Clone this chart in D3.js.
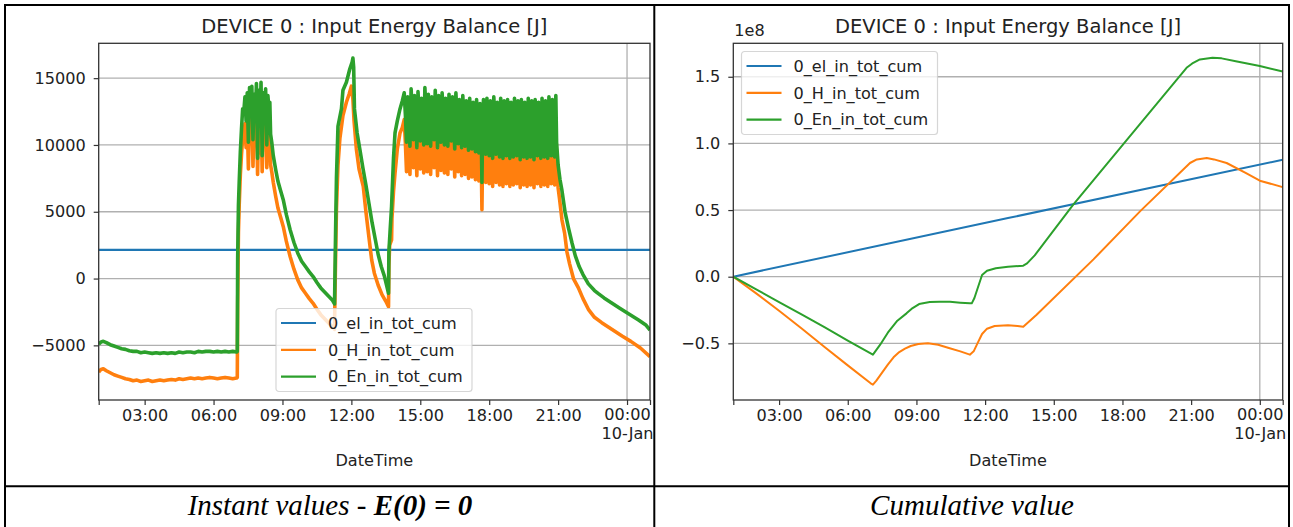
<!DOCTYPE html>
<html>
<head>
<meta charset="utf-8">
<script src="https://cdn.jsdelivr.net/npm/d3@7"></script>
<style>
  html, body { margin: 0; padding: 0; background: #fff; }
  svg { display: block; }
  .mpl text { font-family: "DejaVu Sans", sans-serif; fill: #222; }
  .caption { font-family: "Liberation Serif", "Times New Roman", serif; font-style: italic; fill: #000; }
</style>
</head>
<body>
<svg id="fig" width="1293" height="527"></svg>
<script>
// ---- Data: minutes since 09-Jan 00:00, value in J ----
const seriesNames = ["0_el_in_tot_cum", "0_H_in_tot_cum", "0_En_in_tot_cum"];
const seriesColors = ["#1f77b4", "#ff7f0e", "#2ca02c"];

// Instant values
const elInstant = [[60, 2150], [1500, 2150]];

const hInstant = [
  [60,-7000],[66,-6800],[72,-6750],[80,-6900],[90,-7050],[100,-7200],[110,-7300],[120,-7400],[130,-7500],[140,-7550],
  [150,-7650],[160,-7600],[170,-7700],[180,-7650],[190,-7600],[200,-7700],[210,-7650],[220,-7600],[230,-7650],[240,-7600],
  [250,-7550],[260,-7600],[270,-7500],[280,-7550],[290,-7500],[300,-7450],[310,-7500],[320,-7450],[330,-7500],[340,-7450],
  [350,-7400],[360,-7450],[370,-7500],[380,-7450],[390,-7400],[400,-7450],[410,-7500],[420,-7450],[422,-7400],
  [423,-2000],[425,3500],[427,5500],[430,7800],[433,9300],[436,10500],[439,10300],[442,11600],[445,9800],[448,11900],
  [451,8200],[454,12300],[457,10600],[460,12400],[463,8400],[466,11800],[469,10000],[472,12600],[475,7800],[478,12100],
  [481,9400],[484,12500],[487,8000],[490,11900],[493,10200],[496,12200],[499,8300],[502,11700],[505,10500],[507,11000],
  [509,8500],[512,8000],[516,7200],[522,6200],[528,5300],[535,4600],[542,3900],[550,2800],[560,1650],[570,700],
  [580,-100],[590,-700],[600,-1100],[610,-1500],[620,-1850],[630,-2300],[640,-2700],[650,-3000],[660,-3300],[670,-3600],[676,-3800],
  [677,-1500],[679,2000],[681,5200],[685,8500],[690,10500],[698,12200],[707,13200],[714,13800],[720,14400],[724,13400],
  [727,11800],[733,9700],[740,8200],[751,6900],[758,5000],[765,3300],[773,1400],[780,400],[790,-500],[800,-1200],[810,-1700],[817,-2100],
  [818,1000],[820,2500],[825,2900],[826,4500],[830,6500],[834,7900],[840,9700],[847,10900],[853,11300],
  [858,11900],[861,10200],[864,8000],[867,11500],[870,9800],[873,7800],[876,12200],[879,10500],[882,8300],[885,11700],
  [888,10000],[891,7700],[894,12000],[897,10300],[900,8200],[903,11500],[906,9700],[909,7900],[912,12300],[915,10400],
  [918,8000],[921,11800],[924,10100],[927,7800],[930,11600],[933,9900],[936,8300],[939,12100],[942,10200],[945,7700],
  [948,11700],[951,9800],[954,8100],[957,11900],[960,10300],[963,7900],[966,11500],[969,10000],[972,7800],[975,11800],
  [978,9900],[981,8200],[984,11600],[987,9700],[990,7600],[993,11900],[996,10100],[999,8000],[1002,11400],[1005,9800],
  [1008,7700],[1011,11700],[1014,9900],[1017,7800],[1020,11300],[1023,9600],[1026,7500],[1029,11500],[1032,9800],[1035,7600],
  [1038,11200],[1041,9500],[1044,7400],[1047,11400],[1050,9700],[1053,7300],[1056,11100],[1059,9300],[1061,5150],[1063,9800],
  [1065,11400],[1068,9500],[1071,7200],[1074,11500],[1077,9600],[1080,7100],[1083,11300],[1086,9400],[1089,6900],[1092,11600],
  [1095,9700],[1098,7200],[1101,11200],[1104,9300],[1107,7000],[1110,11500],[1113,9600],[1116,6900],[1119,11300],[1122,9400],
  [1125,7100],[1128,11400],[1131,9500],[1134,6900],[1137,11200],[1140,9300],[1143,7000],[1146,11500],[1149,9600],[1152,7100],
  [1155,11300],[1158,9300],[1161,6800],[1164,11400],[1167,9500],[1170,7000],[1173,11200],[1176,9400],[1179,6900],[1182,11500],
  [1185,9500],[1188,7000],[1191,11300],[1194,9300],[1197,6800],[1200,11400],[1203,9600],[1206,7100],[1209,11200],[1212,9400],
  [1215,6900],[1218,11500],[1221,9500],[1224,7000],[1227,11300],[1230,9300],[1233,6900],[1236,11600],[1239,9600],[1242,7100],
  [1245,11400],[1248,9400],[1251,7000],[1254,11700],
  [1256,8900],[1260,6800],[1264,5900],[1270,4400],[1277,3400],[1283,2000],[1290,1100],[1300,0],[1313,-700],[1325,-1500],
  [1339,-2300],[1355,-2900],[1374,-3300],[1400,-3800],[1427,-4300],[1450,-4700],[1475,-5200],[1500,-5850]
];

const enInstant = [
  [60,-4900],[66,-4750],[72,-4700],[80,-4800],[90,-4950],[100,-5050],[110,-5150],[120,-5250],[130,-5300],[140,-5400],
  [150,-5450],[160,-5450],[170,-5550],[180,-5500],[190,-5550],[200,-5600],[210,-5550],[220,-5600],[230,-5550],[240,-5600],
  [250,-5550],[260,-5600],[270,-5500],[280,-5550],[290,-5500],[300,-5500],[310,-5550],[320,-5450],[330,-5500],[340,-5450],
  [350,-5450],[360,-5500],[370,-5450],[380,-5500],[390,-5450],[400,-5500],[410,-5450],[420,-5500],[422,-5450],
  [423,1500],[425,5500],[427,7200],[430,9500],[433,11200],[436,12700],[439,12500],[442,13600],[445,11800],[448,13900],
  [451,10200],[454,14300],[457,12600],[460,14400],[463,10400],[466,13800],[469,12000],[472,14600],[475,9000],[478,14100],
  [481,11400],[484,14700],[487,9200],[490,13900],[493,12200],[496,14200],[499,10000],[502,13700],[505,12500],[507,13200],
  [509,10800],[512,10200],[516,9200],[522,8200],[528,7300],[535,6600],[542,5900],[550,4800],[560,3650],[570,2700],
  [580,1900],[590,1300],[600,900],[610,500],[620,150],[630,-300],[640,-700],[650,-1000],[660,-1300],[670,-1600],[676,-1900],
  [677,0],[679,4000],[681,7500],[685,11400],[694,12700],[698,14100],[707,14700],[716,15700],[722,16200],[724,16500],
  [726,15800],[728,12700],[735,10900],[742,9700],[750,8300],[758,7000],[766,5600],[774,4200],[782,3000],[790,1800],
  [798,900],[806,200],[812,-500],[817,-1100],
  [818,2000],[821,3500],[825,5400],[830,9000],[834,10900],[840,11800],[847,12700],[853,13300],
  [858,13900],[861,12300],[864,10200],[867,13600],[870,11900],[873,9900],[876,14200],[879,12600],[882,10400],[885,13700],
  [888,12100],[891,9800],[894,14000],[897,12400],[900,10300],[903,13500],[906,11800],[909,10000],[912,14300],[915,12500],
  [918,10100],[921,13800],[924,12200],[927,9900],[930,13600],[933,12000],[936,10400],[939,14100],[942,12300],[945,9800],
  [948,13700],[951,11900],[954,10200],[957,13900],[960,12400],[963,10000],[966,13500],[969,12100],[972,9900],[975,13800],
  [978,12000],[981,10300],[984,13600],[987,11800],[990,9700],[993,13900],[996,12200],[999,10100],[1002,13400],[1005,11900],
  [1008,9800],[1011,13700],[1014,12000],[1017,9900],[1020,13300],[1023,11700],[1026,9600],[1029,13500],[1032,11900],[1035,9700],
  [1038,13200],[1041,11600],[1044,9500],[1047,13400],[1050,11800],[1053,9400],[1056,13100],[1059,11300],[1061,7200],[1063,11800],
  [1065,13400],[1068,11600],[1071,9300],[1074,13500],[1077,11700],[1080,9200],[1083,13300],[1086,11500],[1089,9000],[1092,13600],
  [1095,11800],[1098,9300],[1101,13200],[1104,11400],[1107,9100],[1110,13500],[1113,11700],[1116,9000],[1119,13300],[1122,11500],
  [1125,9200],[1128,13400],[1131,11600],[1134,9000],[1137,13200],[1140,11400],[1143,9100],[1146,13500],[1149,11700],[1152,9200],
  [1155,13300],[1158,11400],[1161,8900],[1164,13400],[1167,11600],[1170,9100],[1173,13200],[1176,11500],[1179,9000],[1182,13500],
  [1185,11600],[1188,9100],[1191,13300],[1194,11400],[1197,8900],[1200,13400],[1203,11700],[1206,9200],[1209,13200],[1212,11500],
  [1215,9000],[1218,13500],[1221,11600],[1224,9100],[1227,13300],[1230,11400],[1233,9000],[1236,13600],[1239,11700],[1242,9200],
  [1245,13400],[1248,11500],[1251,9100],[1254,13700],
  [1256,10200],[1260,8500],[1265,7400],[1270,6600],[1278,5000],[1287,3800],[1296,2700],[1305,1700],[1315,900],[1325,300],
  [1339,-400],[1355,-900],[1366,-1150],[1380,-1450],[1401,-1850],[1420,-2200],[1445,-2650],[1470,-3100],[1490,-3500],[1500,-3850]
];

// Cumulative values
const elCum = [[60, 0], [780, 0.44e8], [1500, 0.877e8]];

const hCum = [
  [60,0],[120,-0.125e8],[180,-0.255e8],[240,-0.39e8],[300,-0.53e8],[360,-0.665e8],[420,-0.80e8],[426,-0.81e8],
  [435,-0.78e8],[450,-0.72e8],[465,-0.66e8],[480,-0.605e8],[495,-0.565e8],[510,-0.54e8],[525,-0.52e8],[545,-0.505e8],
  [570,-0.50e8],[597,-0.51e8],[625,-0.535e8],[655,-0.56e8],[680,-0.585e8],[690,-0.56e8],[700,-0.50e8],[712,-0.43e8],
  [725,-0.39e8],[745,-0.37e8],[780,-0.365e8],[805,-0.37e8],[820,-0.376e8],[855,-0.285e8],[1004,0.13e8],[1126,0.49e8],
  [1257,0.853e8],[1275,0.88e8],[1301,0.89e8],[1320,0.88e8],[1353,0.853e8],[1404,0.777e8],[1440,0.72e8],[1500,0.672e8]
];

const enCum = [
  [60,0],[120,-0.095e8],[180,-0.19e8],[240,-0.285e8],[300,-0.38e8],[360,-0.48e8],[420,-0.575e8],[426,-0.585e8],
  [445,-0.51e8],[465,-0.42e8],[490,-0.33e8],[514,-0.275e8],[530,-0.235e8],[547,-0.205e8],[575,-0.19e8],
  [600,-0.188e8],[628,-0.188e8],[655,-0.195e8],[680,-0.20e8],[685,-0.20e8],[692,-0.16e8],[700,-0.09e8],[712,0.013e8],
  [725,0.045e8],[748,0.063e8],[780,0.075e8],[820,0.083e8],[830,0.10e8],[850,0.16e8],[951,0.54e8],[1091,1.025e8],
  [1248,1.567e8],[1263,1.60e8],[1283,1.63e8],[1316,1.642e8],[1340,1.638e8],[1377,1.617e8],[1440,1.58e8],[1500,1.54e8]
];

// Axis ticks
const xTickMinutes = [60, 180, 360, 540, 720, 900, 1080, 1260, 1440, 1500];
const xTickLabels = ["", "03:00", "06:00", "09:00", "12:00", "15:00", "18:00", "21:00", "00:00", ""];
const dateLabel = "10-Jan";
const yTicksInstant = [-5000, 0, 5000, 10000, 15000];
const yTicksCum = [-0.5e8, 0, 0.5e8, 1.0e8, 1.5e8];
const titleText = "DEVICE 0 : Input Energy Balance [J]";

// ---- Drawing ----
const svg = d3.select("#fig");
const day0 = Date.UTC(2020, 0, 9);
const tm = m => new Date(day0 + m * 60000);
const minusSign = s => s.replace("-", "\u2212");
const FS = 16.1;     // tick / label / legend size
const TITLE_FS = 19.5;

function drawPanel(p) {
  const g = svg.append("g").attr("class", "mpl");
  const x = d3.scaleUtc().domain([tm(60), tm(1500)]).range([p.left, p.right]);
  const y = d3.scaleLinear().domain(p.yDomain).range([p.bottom, p.top]);

  const clipId = "clip-" + p.id;
  g.append("clipPath").attr("id", clipId).append("rect")
    .attr("x", p.left).attr("y", p.top).attr("width", p.right - p.left).attr("height", p.bottom - p.top);

  // grid
  g.append("g").selectAll("line").data(p.yTicks).join("line")
    .attr("x1", p.left).attr("x2", p.right)
    .attr("y1", d => y(d)).attr("y2", d => y(d))
    .attr("stroke", "#b0b0b0").attr("stroke-width", 1.3);
  g.append("line")
    .attr("x1", x(tm(1440))).attr("x2", x(tm(1440)))
    .attr("y1", p.top).attr("y2", p.bottom)
    .attr("stroke", "#b0b0b0").attr("stroke-width", 1.3);

  // series
  const line = d3.line().x(d => x(tm(d[0]))).y(d => y(d[1]));
  const lines = g.append("g").attr("clip-path", `url(#${clipId})`);
  p.series.forEach((s, i) => {
    lines.append("path").datum(s)
      .attr("d", line)
      .attr("fill", "none")
      .attr("stroke", seriesColors[i])
      .attr("stroke-width", p.lineWidths[i])
      .attr("stroke-linejoin", "round");
  });

  // axes
  const xAxis = d3.axisBottom(x)
    .tickValues(xTickMinutes.map(tm))
    .tickSize(5).tickPadding(5)
    .tickFormat((d, i) => xTickLabels[i]);
  const xa = g.append("g").attr("transform", `translate(0,${p.bottom})`).call(xAxis);
  const yAxis = d3.axisLeft(y).tickValues(p.yTicks).tickSize(5).tickPadding(8).tickFormat(p.yFormat);
  const ya = g.append("g").attr("transform", `translate(${p.left},0)`).call(yAxis);
  [xa, ya].forEach(a => {
    a.select(".domain").remove();
    a.selectAll(".tick line").attr("stroke", "#333").attr("stroke-width", 1.2);
    a.selectAll(".tick text").style("font-family", "DejaVu Sans").attr("font-size", FS).attr("fill", "#222");
  });
  // midnight label carries the date on a second line
  xa.selectAll(".tick text").filter((d, i) => i === 8).each(function () {
    const t = d3.select(this);
    const txt = t.text();
    t.text(null).attr("y", 9);
    t.append("tspan").attr("x", 0).attr("dy", "0.71em").text(txt);
    t.append("tspan").attr("x", 0).attr("dy", "1.15em").text(dateLabel);
  });

  // spines
  g.append("rect")
    .attr("x", p.left).attr("y", p.top)
    .attr("width", p.right - p.left).attr("height", p.bottom - p.top)
    .attr("fill", "none").attr("stroke", "#333").attr("stroke-width", 1.3);

  // title and axis label
  const cx = (p.left + p.right) / 2;
  g.append("text").attr("x", cx).attr("y", 33).attr("text-anchor", "middle")
    .attr("font-size", TITLE_FS).text(titleText);
  g.append("text").attr("x", cx).attr("y", 466).attr("text-anchor", "middle")
    .attr("font-size", FS).text("DateTime");
  if (p.offsetText) {
    g.append("text").attr("x", p.left + 1).attr("y", 36).attr("font-size", FS).text(p.offsetText);
  }

  // legend
  const lg = g.append("g").attr("transform", `translate(${p.legend[0]},${p.legend[1]})`);
  lg.append("rect").attr("width", 196).attr("height", 83).attr("rx", 3)
    .attr("fill", "#fff").attr("fill-opacity", 0.8)
    .attr("stroke", "#ccc").attr("stroke-opacity", 0.8).attr("stroke-width", 1.2);
  seriesNames.forEach((name, i) => {
    const ry = 14.5 + i * 26.8;
    lg.append("line").attr("x1", 5).attr("x2", 40).attr("y1", ry).attr("y2", ry)
      .attr("stroke", seriesColors[i]).attr("stroke-width", 2.2);
    lg.append("text").attr("x", 52).attr("y", ry).attr("dy", "0.36em")
      .attr("font-size", FS).text(name);
  });
}

// table frame
const frame = svg.append("g").attr("stroke", "#000").attr("stroke-width", 2);
frame.append("line").attr("x1", 4).attr("x2", 1290).attr("y1", 5).attr("y2", 5);
frame.append("line").attr("x1", 4).attr("x2", 1290).attr("y1", 486.3).attr("y2", 486.3);
frame.append("line").attr("x1", 5).attr("x2", 5).attr("y1", 4).attr("y2", 527);
frame.append("line").attr("x1", 654.3).attr("x2", 654.3).attr("y1", 4).attr("y2", 527);
frame.append("line").attr("x1", 1289).attr("x2", 1289).attr("y1", 4).attr("y2", 527);

drawPanel({
  id: "instant", left: 98.7, right: 650, top: 43.3, bottom: 400,
  yDomain: [-9090, 17610], yTicks: yTicksInstant,
  yFormat: d => minusSign(String(d)),
  series: [elInstant, hInstant, enInstant], lineWidths: [2.4, 3.6, 3.6],
  legend: [276, 308.5]
});

drawPanel({
  id: "cum", left: 733.3, right: 1282.7, top: 43.3, bottom: 400,
  yDomain: [-0.925e8, 1.751e8], yTicks: yTicksCum,
  yFormat: d => minusSign((d / 1e8).toFixed(1)),
  series: [elCum, hCum, enCum], lineWidths: [2, 2, 2],
  legend: [741.5, 51.5], offsetText: "1e8"
});

// captions
const cap1 = svg.append("text").attr("class", "caption").attr("x", 330).attr("y", 515)
  .attr("text-anchor", "middle").attr("font-size", 29);
cap1.append("tspan").text("Instant values - ");
cap1.append("tspan").attr("font-weight", "bold").text("E(0) = 0");
svg.append("text").attr("class", "caption").attr("x", 972).attr("y", 515)
  .attr("text-anchor", "middle").attr("font-size", 29).text("Cumulative value");
</script>
</body>
</html>
